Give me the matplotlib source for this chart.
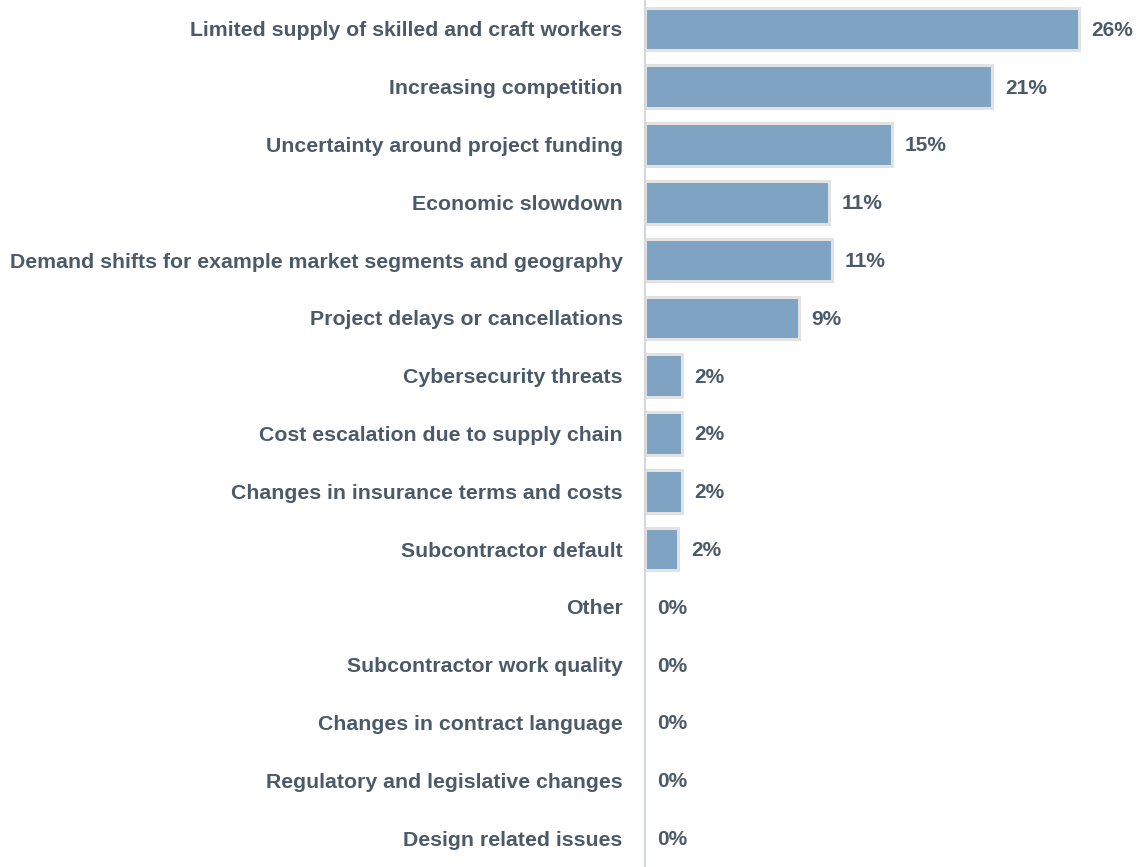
import matplotlib.pyplot as plt

plt.rcParams['font.family'] = ['Liberation Sans', 'DejaVu Sans']

categories = [
    "Limited supply of skilled and craft workers",
    "Increasing competition",
    "Uncertainty around project funding",
    "Economic slowdown",
    "Demand shifts for example market segments and geography",
    "Project delays or cancellations",
    "Cybersecurity threats",
    "Cost escalation due to supply chain",
    "Changes in insurance terms and costs",
    "Subcontractor default",
    "Other",
    "Subcontractor work quality",
    "Changes in contract language",
    "Regulatory and legislative changes",
    "Design related issues",
]
values = [26.0, 20.8, 14.8, 11.0, 11.2, 9.2, 2.2, 2.2, 2.2, 2.0, 0, 0, 0, 0, 0]

text_color = "#4b5a69"
bar_color = "#7fa3c2"

fig = plt.figure(figsize=(11.46, 8.67), dpi=100)
ax = fig.add_axes([0.5628, 0.0, 0.4372, 1.0])

ypos = list(range(len(categories)))
# no outline on empty bars so they don't leave a sliver on the axis
widths = [2.2 if v > 0 else 0 for v in values]
ax.barh(ypos, values, height=0.74, color=bar_color, edgecolor="#e2e2e2", linewidth=widths)

for y, v in zip(ypos, values):
    ax.annotate(f"{v:.0f}%", (v, y), xytext=(9, -1), textcoords="offset points",
                va="center", ha="left", fontsize=15, fontweight="bold", color=text_color)

ax.set_ylim(len(categories) - 0.5, -0.5)
ax.set_xlim(0, 30)
ax.set_yticks(ypos)
ax.set_yticklabels(categories, fontsize=15.3, fontweight="bold", color=text_color)
ax.tick_params(axis="y", length=0, pad=16)
ax.set_xticks([])

for side in ["top", "right", "bottom"]:
    ax.spines[side].set_visible(False)
ax.spines["left"].set_color("#d3d8dd")
ax.spines["left"].set_linewidth(1.5)

fig.savefig("out.png", dpi=100)
